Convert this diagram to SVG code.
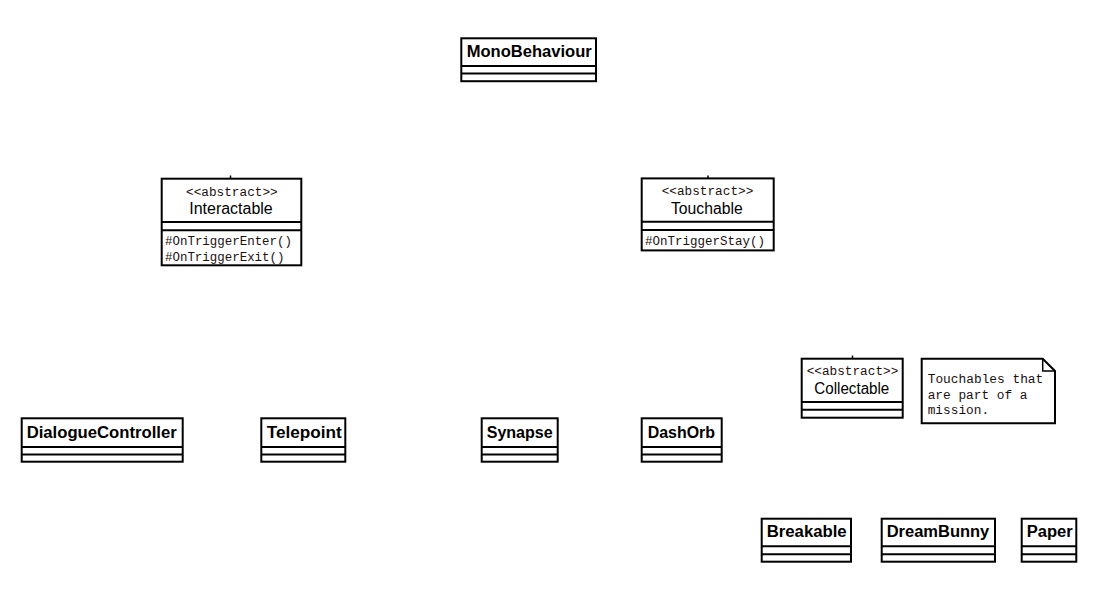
<svg xmlns="http://www.w3.org/2000/svg" width="1100" height="600" viewBox="0 0 1100 600">
<style>
.box{fill:#fff;stroke:#000;stroke-width:2}
.div{stroke:#000;stroke-width:2}
.nm{font-family:"Liberation Sans",Arial,sans-serif;font-weight:bold;font-size:16px;fill:#000}
.rn{font-family:"Liberation Sans",Arial,sans-serif;font-size:16px;fill:#000}
.mono{font-family:"Liberation Mono","Courier New",monospace;font-size:12.5px;fill:#1a1010}
.stub{stroke:#000;stroke-width:1.5}
</style>
<rect width="1100" height="600" fill="#fff"/>
<g id="connectors">
<line class="stub" x1="230.5" y1="175.5" x2="230.5" y2="178"/>
<line class="stub" x1="708" y1="175.5" x2="708" y2="178"/>
<line class="stub" x1="852.5" y1="355.5" x2="852.5" y2="358"/>
</g>
<g id="MonoBehaviour">
<rect class="box" x="461.3" y="38.3" width="134.7" height="42.9"/>
<line class="div" x1="461.3" y1="66" x2="596" y2="66"/>
<line class="div" x1="461.3" y1="73.6" x2="596" y2="73.6"/>
<text class="nm" x="466.7" y="57.4" textLength="125" lengthAdjust="spacingAndGlyphs">MonoBehaviour</text>
</g>
<g id="Interactable">
<rect class="box" x="161.7" y="178.7" width="139.6" height="86.6"/>
<line class="div" x1="161.7" y1="222" x2="301.3" y2="222"/>
<line class="div" x1="161.7" y1="230.3" x2="301.3" y2="230.3"/>
<text class="mono" x="186" y="195.5" textLength="91.7" lengthAdjust="spacingAndGlyphs">&lt;&lt;abstract&gt;&gt;</text>
<text class="rn" x="189.3" y="214" textLength="83.4" lengthAdjust="spacingAndGlyphs">Interactable</text>
<text class="mono" x="165" y="245" textLength="127" lengthAdjust="spacingAndGlyphs">#OnTriggerEnter()</text>
<text class="mono" x="165" y="261" textLength="119.5" lengthAdjust="spacingAndGlyphs">#OnTriggerExit()</text>
</g>
<g id="Touchable">
<rect class="box" x="641.7" y="178.4" width="132" height="72"/>
<line class="div" x1="641.7" y1="221.8" x2="773.7" y2="221.8"/>
<line class="div" x1="641.7" y1="230" x2="773.7" y2="230"/>
<text class="mono" x="661.7" y="195.2" textLength="91.6" lengthAdjust="spacingAndGlyphs">&lt;&lt;abstract&gt;&gt;</text>
<text class="rn" x="671" y="213.5" textLength="71.7" lengthAdjust="spacingAndGlyphs">Touchable</text>
<text class="mono" x="645" y="245" textLength="120" lengthAdjust="spacingAndGlyphs">#OnTriggerStay()</text>
</g>
<g id="Collectable">
<rect class="box" x="801.7" y="358.7" width="101" height="59"/>
<line class="div" x1="801.7" y1="402" x2="902.7" y2="402"/>
<line class="div" x1="801.7" y1="409.8" x2="902.7" y2="409.8"/>
<text class="mono" x="806.7" y="375" textLength="91.6" lengthAdjust="spacingAndGlyphs">&lt;&lt;abstract&gt;&gt;</text>
<text class="rn" x="814.3" y="394" textLength="75" lengthAdjust="spacingAndGlyphs">Collectable</text>
</g>
<g id="Note">
<path class="box" d="M921.7,358.7 L1042.7,358.7 L1055,371 L1055,423.3 L921.7,423.3 Z"/>
<path d="M1042.7,358.7 L1042.7,371 L1055,371" fill="none" stroke="#000" stroke-width="1.5"/>
<text class="mono" x="927.7" y="382.7" textLength="115.6" lengthAdjust="spacingAndGlyphs">Touchables that</text>
<text class="mono" x="927.7" y="398.7" textLength="99.8" lengthAdjust="spacingAndGlyphs">are part of a</text>
<text class="mono" x="927.7" y="414.3" textLength="61.4" lengthAdjust="spacingAndGlyphs">mission.</text>
</g>
<g id="DialogueController">
<rect class="box" x="21.7" y="418.3" width="161" height="43.4"/>
<line class="div" x1="21.7" y1="447" x2="182.7" y2="447"/>
<line class="div" x1="21.7" y1="454.5" x2="182.7" y2="454.5"/>
<text class="nm" x="26.7" y="438.3" textLength="150" lengthAdjust="spacingAndGlyphs">DialogueController</text>
</g>
<g id="Telepoint">
<rect class="box" x="261.3" y="418.3" width="84" height="43.4"/>
<line class="div" x1="261.3" y1="447" x2="345.3" y2="447"/>
<line class="div" x1="261.3" y1="454.5" x2="345.3" y2="454.5"/>
<text class="nm" x="266.7" y="438.3" textLength="75" lengthAdjust="spacingAndGlyphs">Telepoint</text>
</g>
<g id="Synapse">
<rect class="box" x="481.7" y="418.3" width="76" height="43.4"/>
<line class="div" x1="481.7" y1="447" x2="557.7" y2="447"/>
<line class="div" x1="481.7" y1="454.5" x2="557.7" y2="454.5"/>
<text class="nm" x="486.7" y="438.3" textLength="66" lengthAdjust="spacingAndGlyphs">Synapse</text>
</g>
<g id="DashOrb">
<rect class="box" x="641.7" y="418.3" width="80" height="43.4"/>
<line class="div" x1="641.7" y1="447" x2="721.7" y2="447"/>
<line class="div" x1="641.7" y1="454.5" x2="721.7" y2="454.5"/>
<text class="nm" x="647.7" y="438.3" textLength="67.3" lengthAdjust="spacingAndGlyphs">DashOrb</text>
</g>
<g id="Breakable">
<rect class="box" x="761.7" y="518.7" width="89.3" height="43"/>
<line class="div" x1="761.7" y1="546.3" x2="851" y2="546.3"/>
<line class="div" x1="761.7" y1="554.3" x2="851" y2="554.3"/>
<text class="nm" x="766.7" y="537.3" textLength="80" lengthAdjust="spacingAndGlyphs">Breakable</text>
</g>
<g id="DreamBunny">
<rect class="box" x="881.7" y="518.7" width="113.3" height="43"/>
<line class="div" x1="881.7" y1="546.3" x2="995" y2="546.3"/>
<line class="div" x1="881.7" y1="554.3" x2="995" y2="554.3"/>
<text class="nm" x="886.7" y="537.3" textLength="102.6" lengthAdjust="spacingAndGlyphs">DreamBunny</text>
</g>
<g id="Paper">
<rect class="box" x="1021.7" y="518.7" width="54.6" height="43"/>
<line class="div" x1="1021.7" y1="546.3" x2="1076.3" y2="546.3"/>
<line class="div" x1="1021.7" y1="554.3" x2="1076.3" y2="554.3"/>
<text class="nm" x="1026.7" y="537.3" textLength="46" lengthAdjust="spacingAndGlyphs">Paper</text>
</g>
</svg>
